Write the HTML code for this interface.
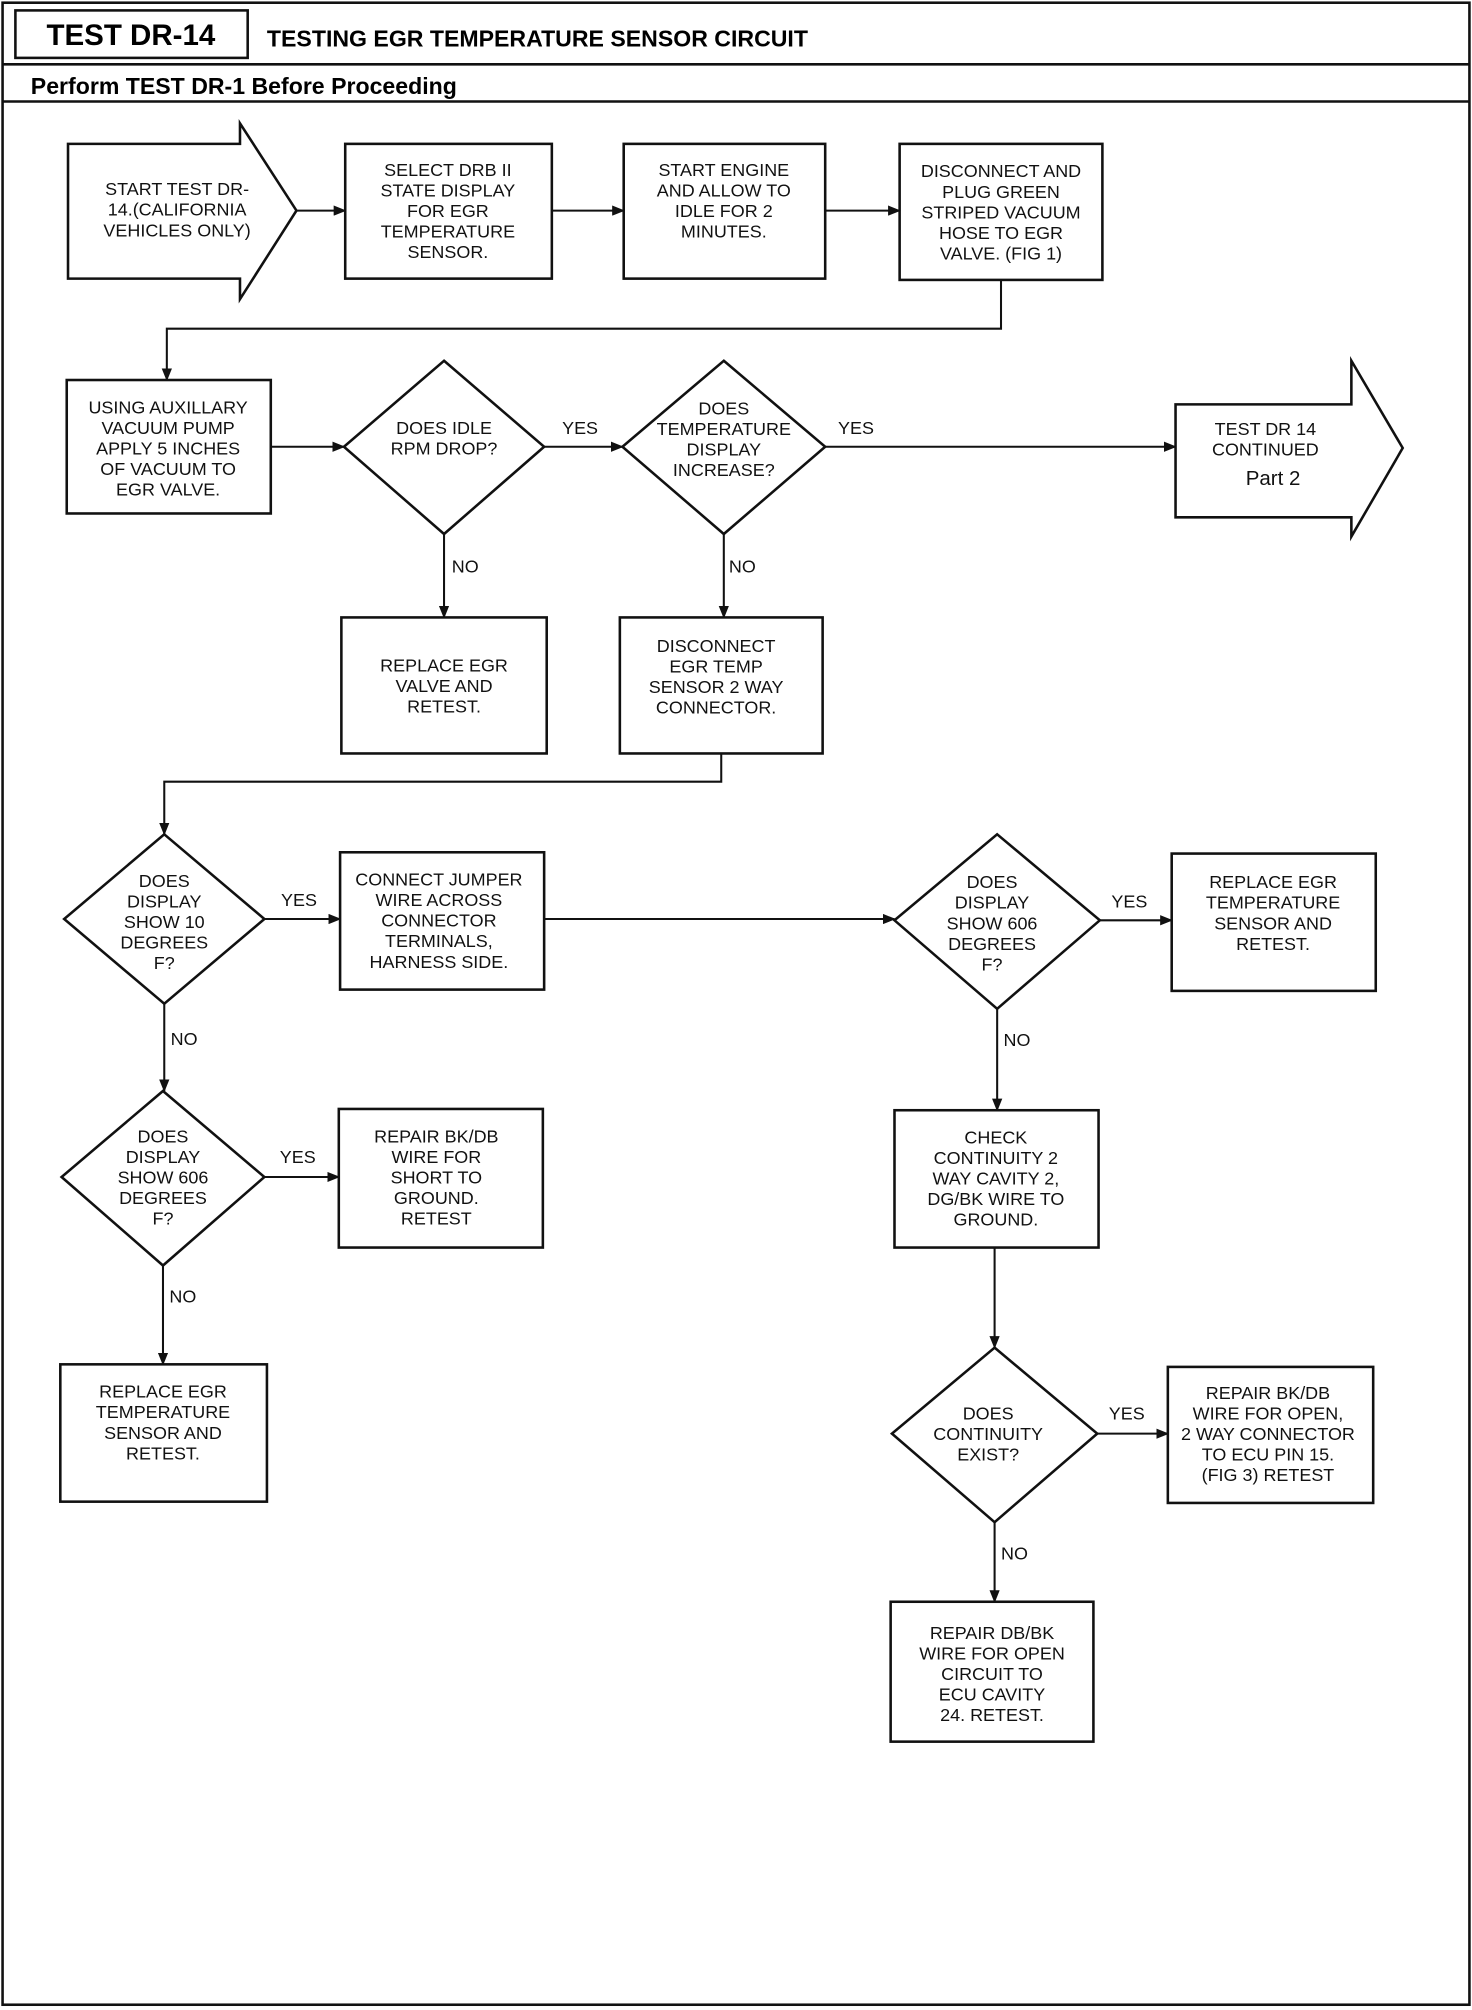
<!DOCTYPE html>
<html><head><meta charset="utf-8"><style>
html,body{margin:0;padding:0;background:#fff}
svg{display:block}
.t{font-family:"Liberation Sans",sans-serif;font-size:14px;fill:#111;text-anchor:middle}
.l{font-family:"Liberation Sans",sans-serif;font-size:14px;fill:#111}
.s{fill:#fff;stroke:#111;stroke-width:2}
.c{fill:none;stroke:#111;stroke-width:1.6}
</style></head><body>
<svg width="1472" height="2010" viewBox="0 0 1147 1566" xmlns="http://www.w3.org/2000/svg">
<defs><marker id="a" markerWidth="10" markerHeight="8" refX="9" refY="4" orient="auto" markerUnits="userSpaceOnUse"><path d="M0,0 L10,4 L0,8 Z" fill="#111"/></marker></defs>
<rect x="2" y="2" width="1143" height="1560" fill="none" stroke="#111" stroke-width="2"/>
<rect x="12" y="8" width="181" height="37" fill="none" stroke="#111" stroke-width="2"/>
<line x1="2" y1="50" x2="1145" y2="50" stroke="#111" stroke-width="2"/>
<line x1="2" y1="79" x2="1145" y2="79" stroke="#111" stroke-width="2"/>
<text x="102" y="35" style="font-family:'Liberation Sans',sans-serif;font-weight:bold;font-size:23px;text-anchor:middle">TEST DR-14</text>
<text x="208" y="36" style="font-family:'Liberation Sans',sans-serif;font-weight:bold;font-size:18px">TESTING EGR TEMPERATURE SENSOR CIRCUIT</text>
<text x="24" y="73" style="font-family:'Liberation Sans',sans-serif;font-weight:bold;font-size:18px">Perform TEST DR-1 Before Proceeding</text>

<!-- row 1 -->
<path class="s" d="M53,112 H187 V96 L231,164 L187,233 V217 H53 Z"/>
<text class="t" x="138"><tspan x="138" y="152">START TEST DR-</tspan><tspan x="138" y="168">14.(CALIFORNIA</tspan><tspan x="138" y="184">VEHICLES ONLY)</tspan></text>
<rect class="s" x="269" y="112" width="161" height="105"/>
<text class="t"><tspan x="349" y="137">SELECT DRB II</tspan><tspan x="349" y="153">STATE DISPLAY</tspan><tspan x="349" y="169">FOR EGR</tspan><tspan x="349" y="185">TEMPERATURE</tspan><tspan x="349" y="201">SENSOR.</tspan></text>
<rect class="s" x="486" y="112" width="157" height="105"/>
<text class="t"><tspan x="564" y="137">START ENGINE</tspan><tspan x="564" y="153">AND ALLOW TO</tspan><tspan x="564" y="169">IDLE FOR 2</tspan><tspan x="564" y="185">MINUTES.</tspan></text>
<rect class="s" x="701" y="112" width="158" height="106"/>
<text class="t"><tspan x="780" y="138">DISCONNECT AND</tspan><tspan x="780" y="154">PLUG GREEN</tspan><tspan x="780" y="170">STRIPED VACUUM</tspan><tspan x="780" y="186">HOSE TO EGR</tspan><tspan x="780" y="202">VALVE. (FIG 1)</tspan></text>
<line class="c" x1="231" y1="164" x2="269" y2="164" marker-end="url(#a)"/>
<line class="c" x1="430" y1="164" x2="486" y2="164" marker-end="url(#a)"/>
<line class="c" x1="643" y1="164" x2="701" y2="164" marker-end="url(#a)"/>
<path class="c" d="M780,218 V256 H130 V296" marker-end="url(#a)"/>

<!-- row 2 -->
<rect class="s" x="52" y="296" width="159" height="104"/>
<text class="t"><tspan x="131" y="322">USING AUXILLARY</tspan><tspan x="131" y="338">VACUUM PUMP</tspan><tspan x="131" y="354">APPLY 5 INCHES</tspan><tspan x="131" y="370">OF VACUUM TO</tspan><tspan x="131" y="386">EGR VALVE.</tspan></text>
<line class="c" x1="211" y1="348" x2="268" y2="348" marker-end="url(#a)"/>
<path class="s" d="M346,281 L424,348 L346,416 L268,348 Z"/>
<text class="t"><tspan x="346" y="338">DOES IDLE</tspan><tspan x="346" y="354">RPM DROP?</tspan></text>
<text class="l" x="438" y="338">YES</text>
<line class="c" x1="424" y1="348" x2="485" y2="348" marker-end="url(#a)"/>
<path class="s" d="M564,281 L643,348 L564,416 L485,348 Z"/>
<text class="t"><tspan x="564" y="323">DOES</tspan><tspan x="564" y="339">TEMPERATURE</tspan><tspan x="564" y="355">DISPLAY</tspan><tspan x="564" y="371">INCREASE?</tspan></text>
<text class="l" x="653" y="338">YES</text>
<line class="c" x1="643" y1="348" x2="916" y2="348" marker-end="url(#a)"/>
<path class="s" d="M916,315 H1053 V281 L1093,349 L1053,418 V403 H916 Z"/>
<text class="t"><tspan x="986" y="339">TEST DR 14</tspan><tspan x="986" y="355">CONTINUED</tspan></text>
<text class="t" x="992" y="378" style="font-size:16px">Part 2</text>
<text class="l" x="352" y="446">NO</text>
<line class="c" x1="346" y1="416" x2="346" y2="481" marker-end="url(#a)"/>
<rect class="s" x="266" y="481" width="160" height="106"/>
<text class="t"><tspan x="346" y="523">REPLACE EGR</tspan><tspan x="346" y="539">VALVE AND</tspan><tspan x="346" y="555">RETEST.</tspan></text>
<text class="l" x="568" y="446">NO</text>
<line class="c" x1="564" y1="416" x2="564" y2="481" marker-end="url(#a)"/>
<rect class="s" x="483" y="481" width="158" height="106"/>
<text class="t"><tspan x="558" y="508">DISCONNECT</tspan><tspan x="558" y="524">EGR TEMP</tspan><tspan x="558" y="540">SENSOR 2 WAY</tspan><tspan x="558" y="556">CONNECTOR.</tspan></text>
<path class="c" d="M562,587 V609 H128 V650" marker-end="url(#a)"/>

<!-- row 3 -->
<path class="s" d="M128,650 L206,716 L128,782 L50,716 Z"/>
<text class="t"><tspan x="128" y="691">DOES</tspan><tspan x="128" y="707">DISPLAY</tspan><tspan x="128" y="723">SHOW 10</tspan><tspan x="128" y="739">DEGREES</tspan><tspan x="128" y="755">F?</tspan></text>
<text class="l" x="219" y="706">YES</text>
<line class="c" x1="206" y1="716" x2="265" y2="716" marker-end="url(#a)"/>
<rect class="s" x="265" y="664" width="159" height="107"/>
<text class="t"><tspan x="342" y="690">CONNECT JUMPER</tspan><tspan x="342" y="706">WIRE ACROSS</tspan><tspan x="342" y="722">CONNECTOR</tspan><tspan x="342" y="738">TERMINALS,</tspan><tspan x="342" y="754">HARNESS SIDE.</tspan></text>
<line class="c" x1="424" y1="716" x2="697" y2="716" marker-end="url(#a)"/>
<path class="s" d="M777,650 L857,717 L777,786 L697,717 Z"/>
<text class="t"><tspan x="773" y="692">DOES</tspan><tspan x="773" y="708">DISPLAY</tspan><tspan x="773" y="724">SHOW 606</tspan><tspan x="773" y="740">DEGREES</tspan><tspan x="773" y="756">F?</tspan></text>
<text class="l" x="866" y="707">YES</text>
<line class="c" x1="857" y1="717" x2="913" y2="717" marker-end="url(#a)"/>
<rect class="s" x="913" y="665" width="159" height="107"/>
<text class="t"><tspan x="992" y="692">REPLACE EGR</tspan><tspan x="992" y="708">TEMPERATURE</tspan><tspan x="992" y="724">SENSOR AND</tspan><tspan x="992" y="740">RETEST.</tspan></text>

<text class="l" x="133" y="814">NO</text>
<line class="c" x1="128" y1="782" x2="128" y2="850" marker-end="url(#a)"/>
<path class="s" d="M127,850 L206,917 L127,986 L48,917 Z"/>
<text class="t"><tspan x="127" y="890">DOES</tspan><tspan x="127" y="906">DISPLAY</tspan><tspan x="127" y="922">SHOW 606</tspan><tspan x="127" y="938">DEGREES</tspan><tspan x="127" y="954">F?</tspan></text>
<text class="l" x="218" y="906">YES</text>
<line class="c" x1="206" y1="917" x2="264" y2="917" marker-end="url(#a)"/>
<rect class="s" x="264" y="864" width="159" height="108"/>
<text class="t"><tspan x="340" y="890">REPAIR BK/DB</tspan><tspan x="340" y="906">WIRE FOR</tspan><tspan x="340" y="922">SHORT TO</tspan><tspan x="340" y="938">GROUND.</tspan><tspan x="340" y="954">RETEST</tspan></text>
<text class="l" x="132" y="1015">NO</text>
<line class="c" x1="127" y1="986" x2="127" y2="1063" marker-end="url(#a)"/>
<rect class="s" x="47" y="1063" width="161" height="107"/>
<text class="t"><tspan x="127" y="1089">REPLACE EGR</tspan><tspan x="127" y="1105">TEMPERATURE</tspan><tspan x="127" y="1121">SENSOR AND</tspan><tspan x="127" y="1137">RETEST.</tspan></text>

<text class="l" x="782" y="815">NO</text>
<line class="c" x1="777" y1="786" x2="777" y2="865" marker-end="url(#a)"/>
<rect class="s" x="697" y="865" width="159" height="107"/>
<text class="t"><tspan x="776" y="891">CHECK</tspan><tspan x="776" y="907">CONTINUITY 2</tspan><tspan x="776" y="923">WAY CAVITY 2,</tspan><tspan x="776" y="939">DG/BK WIRE TO</tspan><tspan x="776" y="955">GROUND.</tspan></text>
<line class="c" x1="775" y1="972" x2="775" y2="1050" marker-end="url(#a)"/>
<path class="s" d="M775,1050 L855,1117 L775,1186 L695,1117 Z"/>
<text class="t"><tspan x="770" y="1106">DOES</tspan><tspan x="770" y="1122">CONTINUITY</tspan><tspan x="770" y="1138">EXIST?</tspan></text>
<text class="l" x="864" y="1106">YES</text>
<line class="c" x1="855" y1="1117" x2="910" y2="1117" marker-end="url(#a)"/>
<rect class="s" x="910" y="1065" width="160" height="106"/>
<text class="t"><tspan x="988" y="1090">REPAIR BK/DB</tspan><tspan x="988" y="1106">WIRE FOR OPEN,</tspan><tspan x="988" y="1122">2 WAY CONNECTOR</tspan><tspan x="988" y="1138">TO ECU PIN 15.</tspan><tspan x="988" y="1154">(FIG 3) RETEST</tspan></text>
<text class="l" x="780" y="1215">NO</text>
<line class="c" x1="775" y1="1186" x2="775" y2="1248" marker-end="url(#a)"/>
<rect class="s" x="694" y="1248" width="158" height="109"/>
<text class="t"><tspan x="773" y="1277">REPAIR DB/BK</tspan><tspan x="773" y="1293">WIRE FOR OPEN</tspan><tspan x="773" y="1309">CIRCUIT TO</tspan><tspan x="773" y="1325">ECU CAVITY</tspan><tspan x="773" y="1341">24. RETEST.</tspan></text>
</svg>
</body></html>
